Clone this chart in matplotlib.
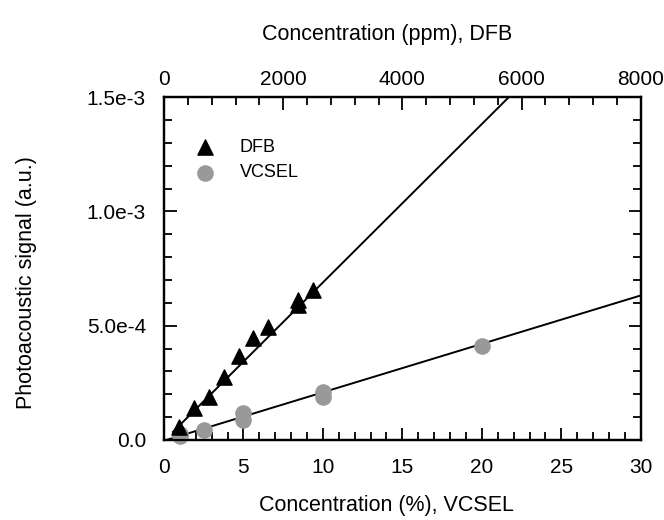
import numpy as np
import matplotlib
matplotlib.use('Agg')
import matplotlib.pyplot as plt
from matplotlib.ticker import MultipleLocator, FixedFormatter, FixedLocator

plt.rcParams['font.family'] = ['Liberation Sans', 'DejaVu Sans']

# DFB data (top axis, ppm)
dfb_ppm = [250, 500, 750, 1000, 1250, 1500, 1750, 2250, 2250, 2500]
dfb_sig = [5.8e-5, 1.38e-4, 1.87e-4, 2.74e-4, 3.69e-4, 4.45e-4, 4.95e-4, 6.12e-4, 5.9e-4, 6.56e-4]
dfb_fit = (2.6e-7, -4e-6)          # slope, intercept
dfb_fit_range = [150, 6500]

# VCSEL data (bottom axis, %)
vcsel_pct = [1, 1, 2.5, 5, 5, 10, 10, 20]
vcsel_sig = [1.5e-5, 2.5e-5, 4.4e-5, 1.17e-4, 8.7e-5, 2.11e-4, 1.89e-4, 4.12e-4]
vcsel_fit = (2.12e-5, -3.6e-6)
vcsel_fit_range = [0.17, 30]

y_ticks = [0, 5e-4, 1e-3, 1.5e-3]
y_ticklabels = ['0.0', '5.0e-4', '1.0e-3', '1.5e-3']

fig = plt.figure(figsize=(6.64, 5.2), dpi=100)
ax = fig.add_axes([0.247, 0.154, 0.718, 0.659])
ax2 = ax.twiny()

xv = np.array(vcsel_fit_range)
ax.plot(xv, vcsel_fit[0] * xv + vcsel_fit[1], color='black', lw=1.4, zorder=2)
ax.scatter(vcsel_pct, vcsel_sig, s=120, color='#999999', zorder=3, clip_on=False, label='VCSEL')

xd = np.array(dfb_fit_range)
ax2.plot(xd, dfb_fit[0] * xd + dfb_fit[1], color='black', lw=1.4, zorder=2)
ax2.scatter(dfb_ppm, dfb_sig, s=120, marker='^', color='black', zorder=3, label='DFB')

ax.set_xlim(0, 30)
ax.set_ylim(0, 1.5e-3)
ax2.set_xlim(0, 8000)

ax.xaxis.set_major_locator(MultipleLocator(5))
ax.xaxis.set_minor_locator(MultipleLocator(1))
ax2.xaxis.set_major_locator(MultipleLocator(2000))
ax2.xaxis.set_minor_locator(MultipleLocator(400))
ax.yaxis.set_major_locator(FixedLocator(y_ticks))
ax.yaxis.set_major_formatter(FixedFormatter(y_ticklabels))
ax.yaxis.set_minor_locator(MultipleLocator(1e-4))

for a in (ax, ax2):
    a.tick_params(which='both', direction='in', width=1.3, labelsize=15)
    a.tick_params(which='major', length=9)
    a.tick_params(which='minor', length=6)
    for s in a.spines.values():
        s.set_linewidth(1.6)
ax.tick_params(which='both', right=True)
ax.tick_params(axis='x', pad=13)
ax.tick_params(axis='y', pad=13)
ax2.tick_params(pad=6)

ax.set_xlabel('Concentration (%), VCSEL', fontsize=15.5)
ax2.set_xlabel('Concentration (ppm), DFB', fontsize=15.5)
ax.set_ylabel('Photoacoustic signal (a.u.)', fontsize=15.5)
ax.xaxis.set_label_coords(0.466, -0.16)
ax2.xaxis.set_label_coords(0.468, 1.166)
ax.yaxis.set_label_coords(-0.266, 0.46)

h1, l1 = ax2.get_legend_handles_labels()
h2, l2 = ax.get_legend_handles_labels()
ax2.legend(h1 + h2, l1 + l2, loc='upper left', bbox_to_anchor=(0.015, 0.925),
           frameon=False, fontsize=13, handletextpad=0.9, labelspacing=0.45)

fig.savefig('out.png', dpi=100)
